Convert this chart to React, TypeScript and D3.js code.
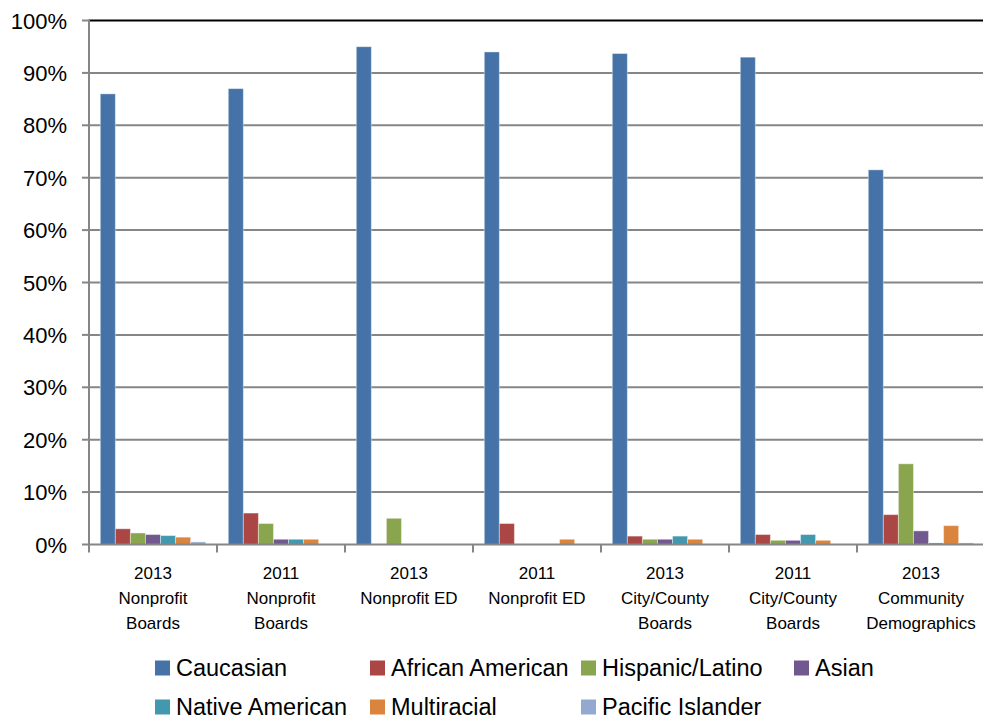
import { useEffect, useRef } from "react";
import * as d3 from "d3";

const categorias = [
  ["2013", "Nonprofit", "Boards"],
  ["2011", "Nonprofit", "Boards"],
  ["2013", "Nonprofit ED"],
  ["2011", "Nonprofit ED"],
  ["2013", "City/County", "Boards"],
  ["2011", "City/County", "Boards"],
  ["2013", "Community", "Demographics"],
];

const series = [
  "Caucasian",
  "African American",
  "Hispanic/Latino",
  "Asian",
  "Native American",
  "Multiracial",
  "Pacific Islander",
];

const caucasian = [86, 87, 95, 94, 93.7, 93, 71.5];
const africanAmerican = [3, 6, 0, 4, 1.6, 1.9, 5.7];
const hispanic = [2.2, 4, 5, 0, 1, 0.8, 15.4];
const asian = [1.9, 1, 0, 0, 1, 0.8, 2.6];
const nativeAmerican = [1.7, 1, 0, 0, 1.6, 1.9, 0.3];
const multiracial = [1.4, 1, 0, 1, 1, 0.8, 3.6];
const pacificIslander = [0.5, 0, 0, 0, 0, 0, 0.3];

const valores = [caucasian, africanAmerican, hispanic, asian, nativeAmerican, multiracial, pacificIslander];
const colores = ["#4572A7", "#AA4643", "#89A54E", "#71588F", "#4198AF", "#DB843D", "#93A9CF"];
const ticksY = [0, 10, 20, 30, 40, 50, 60, 70, 80, 90, 100];

export default function App() {
  const svgRef = useRef<SVGSVGElement>(null);
  const ANCHO = 983;
  const ALTO = 719;

  useEffect(() => {
    if (!svgRef.current) return;
    const svg = d3.select(svgRef.current);
    svg.selectAll("*").remove();

    const izq = 89;
    const der = 985;
    const arriba = 20.5;
    const abajo = 544.5;

    const x = d3
      .scaleBand<number>()
      .domain(d3.range(categorias.length))
      .range([izq, der]);

    const xInterno = d3
      .scaleBand<number>()
      .domain(d3.range(series.length))
      .range([0, x.bandwidth()])
      .paddingOuter(0.75);

    const y = d3.scaleLinear().domain([0, 100]).range([abajo, arriba]);

    // Rejilla horizontal
    svg
      .append("g")
      .selectAll("line")
      .data(ticksY.filter((t) => t > 0))
      .enter()
      .append("line")
      .attr("x1", izq)
      .attr("x2", ANCHO)
      .attr("y1", (d) => y(d))
      .attr("y2", (d) => y(d))
      .attr("stroke", (d) => (d === 100 ? "#000000" : "#868686"))
      .attr("stroke-width", 2);

    // Barras (se omiten las que valen cero)
    const grupos = svg
      .append("g")
      .selectAll("g")
      .data(valores)
      .enter()
      .append("g")
      .attr("fill", (_, i) => colores[i]);

    grupos.each(function (serie, s) {
      const puntos = serie.map((v, c) => ({ v, c })).filter((p) => p.v > 0);
      d3.select(this)
        .selectAll("rect")
        .data(puntos)
        .enter()
        .append("rect")
        .attr("x", (p) => (x(p.c) || 0) + (xInterno(s) || 0))
        .attr("width", xInterno.bandwidth())
        .attr("y", (p) => y(p.v))
        .attr("height", (p) => abajo - y(p.v))
        .attr("stroke", "#ffffff")
        .attr("stroke-opacity", 0.4)
        .attr("stroke-width", 1);
    });

    // Eje Y
    svg
      .append("line")
      .attr("x1", izq)
      .attr("x2", izq)
      .attr("y1", arriba - 1)
      .attr("y2", abajo + 1)
      .attr("stroke", "#868686")
      .attr("stroke-width", 2);

    svg
      .append("g")
      .selectAll("line")
      .data(ticksY)
      .enter()
      .append("line")
      .attr("x1", izq - 7)
      .attr("x2", izq)
      .attr("y1", (d) => y(d))
      .attr("y2", (d) => y(d))
      .attr("stroke", "#868686")
      .attr("stroke-width", 2);

    svg
      .append("g")
      .selectAll("text")
      .data(ticksY)
      .enter()
      .append("text")
      .attr("x", 67)
      .attr("y", (d) => y(d) + 8)
      .attr("text-anchor", "end")
      .attr("font-family", "Liberation Sans, Arial, sans-serif")
      .attr("font-size", 22)
      .attr("fill", "#000")
      .text((d) => `${d}%`);

    // Eje X
    svg
      .append("line")
      .attr("x1", izq)
      .attr("x2", ANCHO)
      .attr("y1", abajo)
      .attr("y2", abajo)
      .attr("stroke", "#868686")
      .attr("stroke-width", 2);

    svg
      .append("g")
      .selectAll("line")
      .data(d3.range(categorias.length + 1))
      .enter()
      .append("line")
      .attr("x1", (d) => izq + d * x.step())
      .attr("x2", (d) => izq + d * x.step())
      .attr("y1", abajo)
      .attr("y2", abajo + 8)
      .attr("stroke", "#868686")
      .attr("stroke-width", 2);

    const etiquetas = svg
      .append("g")
      .selectAll("text")
      .data(categorias)
      .enter()
      .append("text")
      .attr("text-anchor", "middle")
      .attr("font-family", "Liberation Sans, Arial, sans-serif")
      .attr("font-size", 17)
      .attr("fill", "#000");

    etiquetas
      .selectAll("tspan")
      .data((d, i) => d.map((linea) => ({ linea, i })))
      .enter()
      .append("tspan")
      .attr("x", (d) => (x(d.i) || 0) + x.bandwidth() / 2)
      .attr("y", (_, j) => 579 + j * 25)
      .text((d) => d.linea);

    // Leyenda
    const colsLeyenda = [155, 370, 581, 794];
    const filasLeyenda = [668, 707];
    const posLeyenda = [
      [0, 0],
      [1, 0],
      [2, 0],
      [3, 0],
      [0, 1],
      [1, 1],
      [2, 1],
    ];

    const leyenda = svg
      .append("g")
      .selectAll("g")
      .data(series)
      .enter()
      .append("g")
      .attr("transform", (_, i) => `translate(${colsLeyenda[posLeyenda[i][0]]},${filasLeyenda[posLeyenda[i][1]]})`);

    leyenda
      .append("rect")
      .attr("x", 0)
      .attr("y", -7.5)
      .attr("width", 15)
      .attr("height", 15)
      .attr("fill", (_, i) => colores[i]);

    leyenda
      .append("text")
      .attr("x", 21)
      .attr("y", 8)
      .attr("font-family", "Liberation Sans, Arial, sans-serif")
      .attr("font-size", 23.5)
      .attr("fill", "#000")
      .text((d) => d);
  }, []);

  return (
    <svg
      ref={svgRef}
      width={ANCHO}
      height={ALTO}
      viewBox={`0 0 ${ANCHO} ${ALTO}`}
      style={{ position: "absolute", left: 0, top: 0, background: "#fff" }}
    />
  );
}
